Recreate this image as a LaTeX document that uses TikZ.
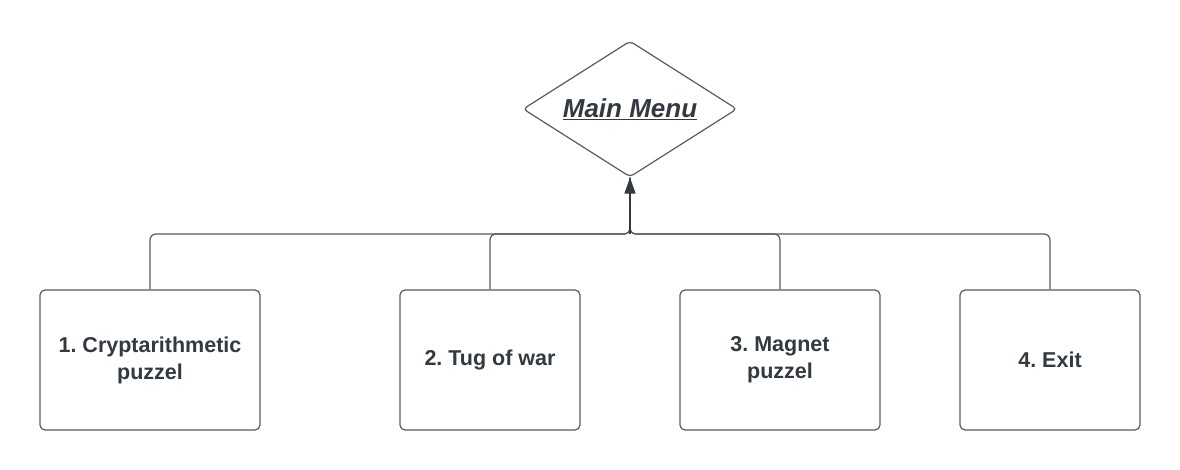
\documentclass[tikz,border=0pt]{standalone}
\usepackage{fontspec}
\setmainfont{Liberation Sans}
\frenchspacing
\usetikzlibrary{shapes.geometric,arrows.meta}
\definecolor{linec}{HTML}{5A5A5A}
\definecolor{textc}{HTML}{333940}
\begin{document}
\begin{tikzpicture}[x=1pt,y=-1pt,
  box/.style={draw=linec,line width=1.2pt,rounded corners=5pt,minimum height=140pt,align=center,text=textc,font=\bfseries\fontsize{21.5}{27}\selectfont,inner sep=0pt},
  menu/.style={draw=linec,line width=1.2pt,diamond,minimum width=214pt,minimum height=136pt,inner sep=0pt,rounded corners=4pt,aspect=1.57,text=textc,font=\bfseries\itshape\fontsize{26}{30}\selectfont},
  conn/.style={draw=linec,line width=1.2pt,rounded corners=6pt}]
\useasboundingbox (0,0) rectangle (1180,470);
\node[menu] (mm) at (630,109) {\underline{Main Menu}};
\node[box,minimum width=220pt] (b1) at (150,360) {1. Cryptarithmetic\\puzzel};
\node[box,minimum width=180pt] (b2) at (490,360) {2. Tug of war};
\node[box,minimum width=200pt] (b3) at (780,360) {3. Magnet\\puzzel};
\node[box,minimum width=180pt] (b4) at (1050,360) {4. Exit};
\coordinate (j) at (630,234);
\draw[conn] (b1.north) |- (j) -- (mm.south);
\draw[conn] (b2.north) |- (j) -- (mm.south);
\draw[conn] (b3.north) |- (j) -- (mm.south);
\draw[conn] (b4.north) |- (j) -- (mm.south);
\draw[draw=textc,line width=1.4pt,-{Triangle[length=16pt,width=11pt]},fill=textc] (j) -- (mm.south);
\end{tikzpicture}
\end{document}
